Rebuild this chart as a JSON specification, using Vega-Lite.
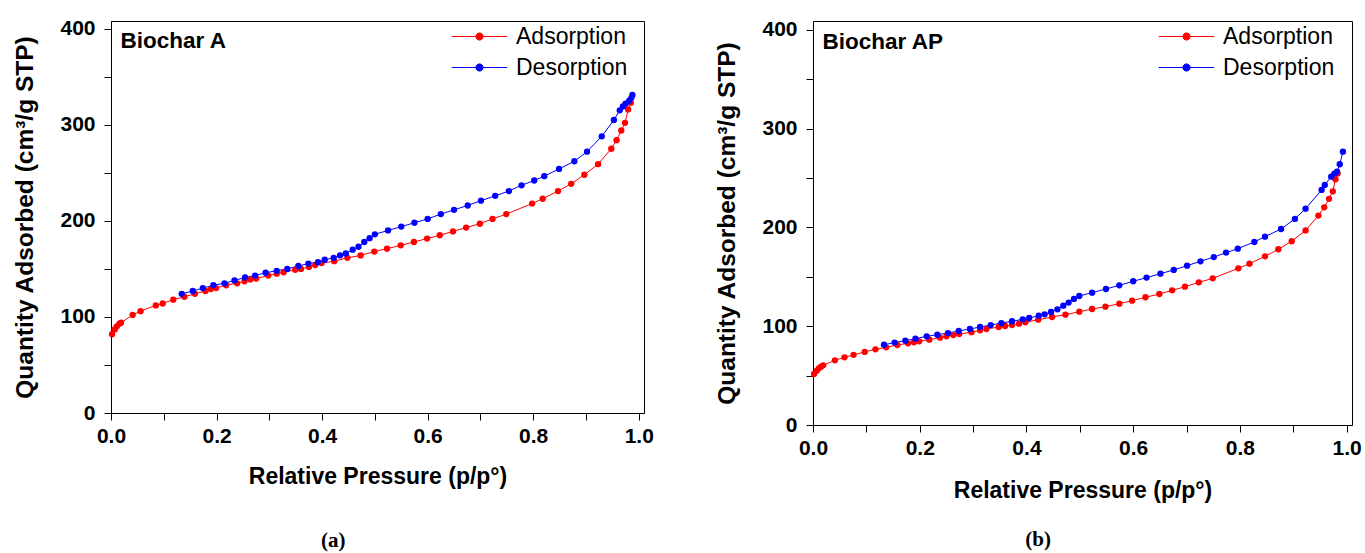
{
  "$schema": "https://vega.github.io/schema/vega-lite/v6.json",
  "background": "white",
  "padding": {"left": 12, "top": 17, "right": 5, "bottom": 5},
  "spacing": 60,
  "datasets": {
    "a": [
      {"p": 0.002, "q": 82, "s": "Adsorption"}, {"p": 0.007, "q": 87, "s": "Adsorption"}, {"p": 0.011, "q": 90, "s": "Adsorption"},
      {"p": 0.016, "q": 93, "s": "Adsorption"}, {"p": 0.019, "q": 94, "s": "Adsorption"}, {"p": 0.041, "q": 102, "s": "Adsorption"},
      {"p": 0.056, "q": 106, "s": "Adsorption"}, {"p": 0.085, "q": 112, "s": "Adsorption"}, {"p": 0.098, "q": 114, "s": "Adsorption"},
      {"p": 0.118, "q": 118, "s": "Adsorption"}, {"p": 0.139, "q": 121, "s": "Adsorption"}, {"p": 0.159, "q": 124, "s": "Adsorption"},
      {"p": 0.179, "q": 127, "s": "Adsorption"}, {"p": 0.189, "q": 129, "s": "Adsorption"}, {"p": 0.199, "q": 130, "s": "Adsorption"},
      {"p": 0.218, "q": 133, "s": "Adsorption"}, {"p": 0.239, "q": 135, "s": "Adsorption"}, {"p": 0.253, "q": 137, "s": "Adsorption"},
      {"p": 0.264, "q": 139, "s": "Adsorption"}, {"p": 0.275, "q": 140, "s": "Adsorption"}, {"p": 0.298, "q": 143, "s": "Adsorption"},
      {"p": 0.314, "q": 145, "s": "Adsorption"}, {"p": 0.327, "q": 146.5, "s": "Adsorption"}, {"p": 0.349, "q": 149, "s": "Adsorption"},
      {"p": 0.360, "q": 150, "s": "Adsorption"}, {"p": 0.375, "q": 152, "s": "Adsorption"}, {"p": 0.387, "q": 154, "s": "Adsorption"},
      {"p": 0.399, "q": 156, "s": "Adsorption"}, {"p": 0.423, "q": 158, "s": "Adsorption"}, {"p": 0.448, "q": 161.5, "s": "Adsorption"},
      {"p": 0.473, "q": 164, "s": "Adsorption"}, {"p": 0.499, "q": 168, "s": "Adsorption"}, {"p": 0.523, "q": 171, "s": "Adsorption"},
      {"p": 0.549, "q": 174.5, "s": "Adsorption"}, {"p": 0.574, "q": 178, "s": "Adsorption"}, {"p": 0.599, "q": 181.5, "s": "Adsorption"},
      {"p": 0.623, "q": 185, "s": "Adsorption"}, {"p": 0.648, "q": 189, "s": "Adsorption"}, {"p": 0.673, "q": 193, "s": "Adsorption"},
      {"p": 0.699, "q": 197, "s": "Adsorption"}, {"p": 0.723, "q": 202, "s": "Adsorption"}, {"p": 0.749, "q": 207, "s": "Adsorption"},
      {"p": 0.798, "q": 218, "s": "Adsorption"}, {"p": 0.818, "q": 223, "s": "Adsorption"}, {"p": 0.847, "q": 231, "s": "Adsorption"},
      {"p": 0.872, "q": 238.5, "s": "Adsorption"}, {"p": 0.897, "q": 248, "s": "Adsorption"}, {"p": 0.923, "q": 259, "s": "Adsorption"},
      {"p": 0.948, "q": 275, "s": "Adsorption"}, {"p": 0.958, "q": 284, "s": "Adsorption"}, {"p": 0.967, "q": 294, "s": "Adsorption"},
      {"p": 0.974, "q": 302, "s": "Adsorption"}, {"p": 0.980, "q": 316, "s": "Adsorption"}, {"p": 0.985, "q": 323, "s": "Adsorption"},
      {"p": 0.988, "q": 331, "s": "Desorption"}, {"p": 0.986, "q": 328, "s": "Desorption"}, {"p": 0.982, "q": 325, "s": "Desorption"},
      {"p": 0.975, "q": 322, "s": "Desorption"}, {"p": 0.970, "q": 319, "s": "Desorption"}, {"p": 0.964, "q": 315, "s": "Desorption"},
      {"p": 0.953, "q": 305, "s": "Desorption"}, {"p": 0.930, "q": 288, "s": "Desorption"}, {"p": 0.902, "q": 272, "s": "Desorption"},
      {"p": 0.878, "q": 262, "s": "Desorption"}, {"p": 0.849, "q": 254, "s": "Desorption"}, {"p": 0.821, "q": 246.5, "s": "Desorption"},
      {"p": 0.802, "q": 242, "s": "Desorption"}, {"p": 0.778, "q": 237, "s": "Desorption"}, {"p": 0.754, "q": 231, "s": "Desorption"},
      {"p": 0.728, "q": 226, "s": "Desorption"}, {"p": 0.701, "q": 221, "s": "Desorption"}, {"p": 0.676, "q": 216, "s": "Desorption"},
      {"p": 0.650, "q": 211.5, "s": "Desorption"}, {"p": 0.625, "q": 207, "s": "Desorption"}, {"p": 0.600, "q": 202, "s": "Desorption"},
      {"p": 0.575, "q": 198, "s": "Desorption"}, {"p": 0.550, "q": 194, "s": "Desorption"}, {"p": 0.525, "q": 190, "s": "Desorption"},
      {"p": 0.500, "q": 186, "s": "Desorption"}, {"p": 0.490, "q": 182, "s": "Desorption"}, {"p": 0.480, "q": 178, "s": "Desorption"},
      {"p": 0.469, "q": 173, "s": "Desorption"}, {"p": 0.458, "q": 170, "s": "Desorption"}, {"p": 0.445, "q": 166, "s": "Desorption"},
      {"p": 0.434, "q": 164, "s": "Desorption"}, {"p": 0.422, "q": 161.5, "s": "Desorption"}, {"p": 0.405, "q": 159.5, "s": "Desorption"},
      {"p": 0.392, "q": 157, "s": "Desorption"}, {"p": 0.374, "q": 155.5, "s": "Desorption"}, {"p": 0.355, "q": 153, "s": "Desorption"},
      {"p": 0.334, "q": 150, "s": "Desorption"}, {"p": 0.314, "q": 148, "s": "Desorption"}, {"p": 0.293, "q": 146, "s": "Desorption"},
      {"p": 0.273, "q": 143, "s": "Desorption"}, {"p": 0.254, "q": 141, "s": "Desorption"}, {"p": 0.234, "q": 138, "s": "Desorption"},
      {"p": 0.215, "q": 135, "s": "Desorption"}, {"p": 0.194, "q": 133, "s": "Desorption"}, {"p": 0.174, "q": 130, "s": "Desorption"},
      {"p": 0.155, "q": 127, "s": "Desorption"}, {"p": 0.134, "q": 124, "s": "Desorption"}
    ],
    "b": [
      {"p": 0.002, "q": 51.6, "s": "Adsorption"}, {"p": 0.007, "q": 55, "s": "Adsorption"}, {"p": 0.011, "q": 57.4, "s": "Adsorption"},
      {"p": 0.015, "q": 59, "s": "Adsorption"}, {"p": 0.019, "q": 60.4, "s": "Adsorption"}, {"p": 0.041, "q": 65.5, "s": "Adsorption"},
      {"p": 0.059, "q": 68.5, "s": "Adsorption"}, {"p": 0.076, "q": 71, "s": "Adsorption"}, {"p": 0.097, "q": 74, "s": "Adsorption"},
      {"p": 0.117, "q": 76.6, "s": "Adsorption"}, {"p": 0.137, "q": 78.6, "s": "Adsorption"}, {"p": 0.158, "q": 81, "s": "Adsorption"},
      {"p": 0.178, "q": 82.7, "s": "Adsorption"}, {"p": 0.189, "q": 83.7, "s": "Adsorption"}, {"p": 0.199, "q": 84.7, "s": "Adsorption"},
      {"p": 0.218, "q": 86.4, "s": "Adsorption"}, {"p": 0.238, "q": 88.4, "s": "Adsorption"}, {"p": 0.250, "q": 89.8, "s": "Adsorption"},
      {"p": 0.263, "q": 91, "s": "Adsorption"}, {"p": 0.274, "q": 92, "s": "Adsorption"}, {"p": 0.297, "q": 94, "s": "Adsorption"},
      {"p": 0.313, "q": 95.8, "s": "Adsorption"}, {"p": 0.325, "q": 97.2, "s": "Adsorption"}, {"p": 0.348, "q": 99.2, "s": "Adsorption"},
      {"p": 0.360, "q": 100.2, "s": "Adsorption"}, {"p": 0.373, "q": 101.2, "s": "Adsorption"}, {"p": 0.386, "q": 102.6, "s": "Adsorption"},
      {"p": 0.398, "q": 104, "s": "Adsorption"}, {"p": 0.422, "q": 106.6, "s": "Adsorption"}, {"p": 0.448, "q": 109.3, "s": "Adsorption"},
      {"p": 0.473, "q": 111.7, "s": "Adsorption"}, {"p": 0.499, "q": 114.7, "s": "Adsorption"}, {"p": 0.523, "q": 117.4, "s": "Adsorption"},
      {"p": 0.548, "q": 119.8, "s": "Adsorption"}, {"p": 0.574, "q": 122.8, "s": "Adsorption"}, {"p": 0.598, "q": 125.9, "s": "Adsorption"},
      {"p": 0.623, "q": 129.3, "s": "Adsorption"}, {"p": 0.649, "q": 132.6, "s": "Adsorption"}, {"p": 0.673, "q": 136.3, "s": "Adsorption"},
      {"p": 0.697, "q": 140, "s": "Adsorption"}, {"p": 0.723, "q": 144.4, "s": "Adsorption"}, {"p": 0.749, "q": 148.5, "s": "Adsorption"},
      {"p": 0.797, "q": 158.6, "s": "Adsorption"}, {"p": 0.818, "q": 163.3, "s": "Adsorption"}, {"p": 0.847, "q": 170.8, "s": "Adsorption"},
      {"p": 0.872, "q": 177.9, "s": "Adsorption"}, {"p": 0.897, "q": 186, "s": "Adsorption"}, {"p": 0.923, "q": 197, "s": "Adsorption"},
      {"p": 0.947, "q": 212, "s": "Adsorption"}, {"p": 0.958, "q": 220.4, "s": "Adsorption"}, {"p": 0.967, "q": 229, "s": "Adsorption"},
      {"p": 0.974, "q": 236.6, "s": "Adsorption"}, {"p": 0.979, "q": 248.7, "s": "Adsorption"}, {"p": 0.983, "q": 254.5, "s": "Adsorption"},
      {"p": 0.993, "q": 276.7, "s": "Desorption"}, {"p": 0.987, "q": 264, "s": "Desorption"}, {"p": 0.982, "q": 256.5, "s": "Desorption"},
      {"p": 0.977, "q": 254.5, "s": "Desorption"}, {"p": 0.971, "q": 251.4, "s": "Desorption"}, {"p": 0.959, "q": 243, "s": "Desorption"},
      {"p": 0.953, "q": 238, "s": "Desorption"}, {"p": 0.923, "q": 219, "s": "Desorption"}, {"p": 0.903, "q": 208.6, "s": "Desorption"},
      {"p": 0.877, "q": 198.4, "s": "Desorption"}, {"p": 0.847, "q": 190.7, "s": "Desorption"}, {"p": 0.827, "q": 185.3, "s": "Desorption"},
      {"p": 0.796, "q": 178.5, "s": "Desorption"}, {"p": 0.774, "q": 174.5, "s": "Desorption"}, {"p": 0.751, "q": 170, "s": "Desorption"},
      {"p": 0.726, "q": 165.7, "s": "Desorption"}, {"p": 0.701, "q": 161.3, "s": "Desorption"}, {"p": 0.676, "q": 157, "s": "Desorption"},
      {"p": 0.651, "q": 153.2, "s": "Desorption"}, {"p": 0.625, "q": 149.2, "s": "Desorption"}, {"p": 0.600, "q": 145.5, "s": "Desorption"},
      {"p": 0.574, "q": 141.4, "s": "Desorption"}, {"p": 0.549, "q": 137.7, "s": "Desorption"}, {"p": 0.523, "q": 134, "s": "Desorption"},
      {"p": 0.499, "q": 130.6, "s": "Desorption"}, {"p": 0.489, "q": 127.6, "s": "Desorption"}, {"p": 0.479, "q": 123.9, "s": "Desorption"},
      {"p": 0.469, "q": 120.8, "s": "Desorption"}, {"p": 0.458, "q": 117.1, "s": "Desorption"}, {"p": 0.446, "q": 114.4, "s": "Desorption"},
      {"p": 0.434, "q": 112, "s": "Desorption"}, {"p": 0.423, "q": 110.7, "s": "Desorption"}, {"p": 0.405, "q": 108.3, "s": "Desorption"},
      {"p": 0.393, "q": 107, "s": "Desorption"}, {"p": 0.373, "q": 105, "s": "Desorption"}, {"p": 0.353, "q": 103.2, "s": "Desorption"},
      {"p": 0.333, "q": 101.2, "s": "Desorption"}, {"p": 0.313, "q": 99.2, "s": "Desorption"}, {"p": 0.294, "q": 97.2, "s": "Desorption"},
      {"p": 0.273, "q": 95.2, "s": "Desorption"}, {"p": 0.253, "q": 93.1, "s": "Desorption"}, {"p": 0.233, "q": 91.4, "s": "Desorption"},
      {"p": 0.213, "q": 89.8, "s": "Desorption"}, {"p": 0.192, "q": 87.4, "s": "Desorption"}, {"p": 0.173, "q": 85.4, "s": "Desorption"},
      {"p": 0.153, "q": 83.4, "s": "Desorption"}, {"p": 0.133, "q": 81.3, "s": "Desorption"}
    ]
  },
  "resolve": {"scale": {"color": "independent", "x": "independent", "y": "independent"}, "legend": {"color": "independent"}},
  "hconcat": [
    {
      "width": 533,
      "height": 392,
      "title": {"text": "(a)", "orient": "bottom", "anchor": "middle", "frame": "bounds", "font": "Liberation Serif", "fontSize": 21, "fontWeight": "bold", "color": "black", "offset": 42},
      "layer": [
        {
          "data": {"name": "a"},
          "mark": {"type": "line", "strokeWidth": 1, "point": {"filled": true, "size": 40}},
          "encoding": {
            "x": {"field": "p", "type": "quantitative", "scale": {"domain": [0, 1.01], "nice": false, "zero": false},
              "axis": {"title": "Relative Pressure (p/p°)", "values": [0, 0.1, 0.2, 0.3, 0.4, 0.5, 0.6, 0.7, 0.8, 0.9, 1.0],
                "labelExpr": "round(datum.value*10)%2===0 ? format(datum.value,'.1f') : ''", "labelPadding": 5, "titlePadding": 19}},
            "y": {"field": "q", "type": "quantitative", "scale": {"domain": [0, 408], "nice": false},
              "axis": {"title": "Quantity Adsorbed (cm³/g STP)", "values": [0, 50, 100, 150, 200, 250, 300, 350, 400],
                "labelExpr": "datum.value%100===0 ? datum.label : ''", "labelPadding": 9, "titlePadding": 22}},
            "color": {"field": "s", "type": "nominal", "scale": {"domain": ["Adsorption", "Desorption"], "range": ["#ff0000", "#0000ff"]},
              "legend": {"title": null, "orient": "none", "legendX": 353, "legendY": 0,
                "symbolType": "M-1.85,0H1.85M-0.24,0A0.24,0.24,0,1,0,0.24,0A0.24,0.24,0,1,0,-0.24,0",
                "symbolSize": 900, "symbolStrokeWidth": 1, "labelOffset": 21, "rowPadding": 3, "padding": 0,
                "labelFont": "Liberation Sans", "labelFontSize": 23, "labelColor": "black", "labelLimit": 300,
                "encode": {"symbols": {"update": {
                  "fill": {"signal": "datum.value === 'Adsorption' ? '#ff0000' : '#0000ff'"},
                  "stroke": {"signal": "datum.value === 'Adsorption' ? '#ff0000' : '#0000ff'"},
                  "opacity": {"value": 1}, "fillOpacity": {"value": 1}}}}}}
          }
        },
        {
          "data": {"values": [{}]},
          "mark": {"type": "text", "align": "left", "baseline": "alphabetic", "font": "Liberation Sans", "fontSize": 22.5, "fontWeight": "bold", "color": "black"},
          "encoding": {"x": {"datum": 0.018}, "y": {"datum": 380}, "text": {"value": "Biochar A"}}
        }
      ]
    },
    {
      "width": 539,
      "height": 404,
      "title": {"text": "(b)", "orient": "bottom", "anchor": "middle", "frame": "bounds", "font": "Liberation Serif", "fontSize": 21, "fontWeight": "bold", "color": "black", "offset": 27},
      "layer": [
        {
          "data": {"name": "b"},
          "mark": {"type": "line", "strokeWidth": 1, "point": {"filled": true, "size": 40}},
          "encoding": {
            "x": {"field": "p", "type": "quantitative", "scale": {"domain": [0, 1.01], "nice": false, "zero": false},
              "axis": {"title": "Relative Pressure (p/p°)", "values": [0, 0.1, 0.2, 0.3, 0.4, 0.5, 0.6, 0.7, 0.8, 0.9, 1.0],
                "labelExpr": "round(datum.value*10)%2===0 ? format(datum.value,'.1f') : ''", "labelPadding": 5, "titlePadding": 21}},
            "y": {"field": "q", "type": "quantitative", "scale": {"domain": [0, 409], "nice": false},
              "axis": {"title": "Quantity Adsorbed (cm³/g STP)", "values": [0, 50, 100, 150, 200, 250, 300, 350, 400],
                "labelExpr": "datum.value%100===0 ? datum.label : ''", "labelPadding": 9, "titlePadding": 22}},
            "color": {"field": "s", "type": "nominal", "scale": {"domain": ["Adsorption", "Desorption"], "range": ["#ff0000", "#0000ff"]},
              "legend": {"title": null, "orient": "none", "legendX": 358, "legendY": 0,
                "symbolType": "M-1.85,0H1.85M-0.24,0A0.24,0.24,0,1,0,0.24,0A0.24,0.24,0,1,0,-0.24,0",
                "symbolSize": 900, "symbolStrokeWidth": 1, "labelOffset": 21, "rowPadding": 3, "padding": 0,
                "labelFont": "Liberation Sans", "labelFontSize": 23, "labelColor": "black", "labelLimit": 300,
                "encode": {"symbols": {"update": {
                  "fill": {"signal": "datum.value === 'Adsorption' ? '#ff0000' : '#0000ff'"},
                  "stroke": {"signal": "datum.value === 'Adsorption' ? '#ff0000' : '#0000ff'"},
                  "opacity": {"value": 1}, "fillOpacity": {"value": 1}}}}}}
          }
        },
        {
          "data": {"values": [{}]},
          "mark": {"type": "text", "align": "left", "baseline": "alphabetic", "font": "Liberation Sans", "fontSize": 22.5, "fontWeight": "bold", "color": "black"},
          "encoding": {"x": {"datum": 0.018}, "y": {"datum": 381}, "text": {"value": "Biochar AP"}}
        }
      ]
    }
  ],
  "config": {
    "view": {"stroke": "black", "strokeWidth": 1},
    "axis": {
      "grid": false, "domainColor": "black", "domainWidth": 1, "tickColor": "black", "tickWidth": 1, "tickSize": 7,
      "labelColor": "black", "titleColor": "black", "labelFont": "Liberation Sans", "titleFont": "Liberation Sans",
      "labelFontWeight": "bold", "titleFontWeight": "bold", "labelFontSize": 21, "labelOverlap": false, "labelFlush": false
    },
    "axisX": {"titleFontSize": 23},
    "axisY": {"titleFontSize": 24.5}
  }
}
